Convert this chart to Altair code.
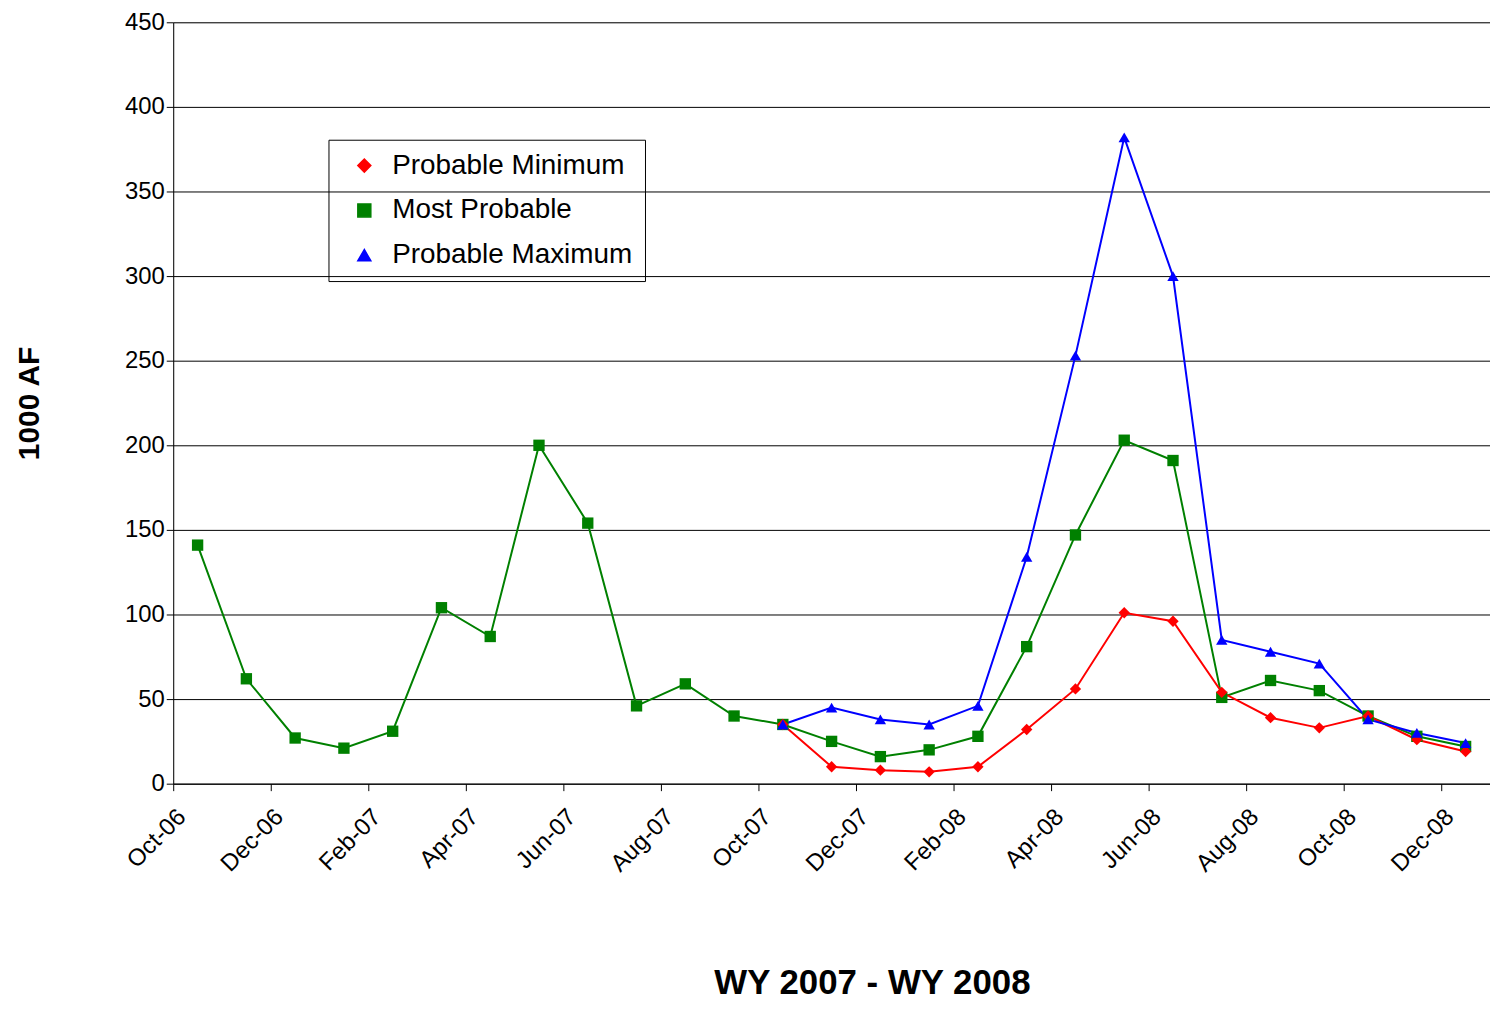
import altair as alt
import pandas as pd

month_labels = ["Oct-06", "Nov-06", "Dec-06", "Jan-07", "Feb-07", "Mar-07", "Apr-07", "May-07",
                "Jun-07", "Jul-07", "Aug-07", "Sep-07", "Oct-07", "Nov-07", "Dec-07", "Jan-08",
                "Feb-08", "Mar-08", "Apr-08", "May-08", "Jun-08", "Jul-08", "Aug-08", "Sep-08",
                "Oct-08", "Nov-08", "Dec-08"]

most_probable = [141, 62, 27, 21, 31, 104, 87, 200, 154, 46, 59, 40,
                 35, 25, 16, 20, 28, 81, 147, 203, 191, 51, 61, 55, 40, 28, 22]
prob_min = [35, 10, 8, 7, 10, 32, 56, 101, 96, 54, 39, 33, 40, 26, 19]
prob_max = [35, 45, 38, 35, 46, 134, 253, 382, 300, 85, 78, 71, 38, 30, 24]

series = ["Probable Minimum", "Most Probable", "Probable Maximum"]
colors = ["#ff0000", "#008000", "#0000ff"]
shapes = ["diamond", "square", "triangle-up"]

rows = []
for i, v in enumerate(most_probable):
    rows.append({"m": i + 0.5, "value": v, "series": "Most Probable"})
for i, v in enumerate(prob_min):
    rows.append({"m": i + 12.5, "value": v, "series": "Probable Minimum"})
for i, v in enumerate(prob_max):
    rows.append({"m": i + 12.5, "value": v, "series": "Probable Maximum"})
df = pd.DataFrame(rows)

label_expr = "[" + ",".join(f"'{s}'" for s in month_labels) + "][datum.value]"

font = "Liberation Sans"
color = alt.Color("series:N", scale=alt.Scale(domain=series, range=colors),
                  legend=alt.Legend(title=None, orient="none", legendX=156, legendY=118,
                                    strokeColor="black", padding=12, labelFontSize=28,
                                    labelFont=font, symbolSize=170, rowPadding=17,
                                    labelLimit=500, labelColor="black", labelOffset=14,
                                    symbolOffset=10))
shape = alt.Shape("series:N", scale=alt.Scale(domain=series, range=shapes), legend=None)

x = alt.X("m:Q", scale=alt.Scale(domain=[0, 27], nice=False, zero=False),
          axis=alt.Axis(values=list(range(0, 27, 2)), labelExpr=label_expr, labelAngle=-45,
                        labelFontSize=24, labelFont=font, labelColor="black", grid=False,
                        domainColor="black", tickColor="black", tickSize=7, labelAlign="right",
                        labelBaseline="top", labelPadding=14,
                        title="WY 2007 - WY 2008", titleFontSize=35, titleFont=font,
                        titleFontWeight="bold", titleColor="black", titlePadding=90,
                        titleX=702, titleAlign="center", titleAnchor="start"))
y = alt.Y("value:Q", scale=alt.Scale(domain=[0, 450]),
          axis=alt.Axis(values=list(range(0, 451, 50)), labelFontSize=24, labelFont=font,
                        labelColor="black", gridColor="black", gridWidth=1, domainColor="black",
                        tickColor="black", tickSize=7, title="1000 AF", titleFontSize=30,
                        titleFont=font, titleFontWeight="bold", titleColor="black",
                        titlePadding=80))

base = alt.Chart(df).encode(x=x, y=y, color=color, detail="series:N")
lines = base.mark_line(strokeWidth=2)
points = base.mark_point(filled=True, size=130, opacity=1).encode(shape=shape)

chart = (lines + points).properties(
    width=1323, height=765, autosize="none",
    padding={"left": 166, "top": 12, "right": 0, "bottom": 219},
).configure_view(stroke=None).configure(background="white")

chart.save("out.html", embed_options={"renderer": "svg", "actions": False})
